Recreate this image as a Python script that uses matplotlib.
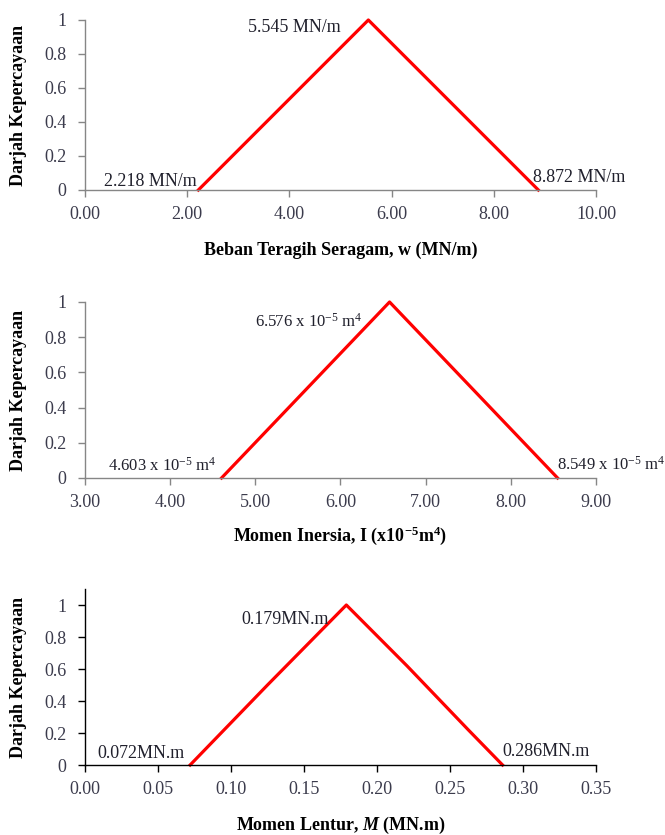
import matplotlib
matplotlib.use("Agg")
import matplotlib.pyplot as plt

plt.rcParams["font.family"] = ["Liberation Serif", "DejaVu Serif"]
plt.rcParams["mathtext.fontset"] = "custom"
plt.rcParams["mathtext.rm"] = "Liberation Serif"
plt.rcParams["mathtext.it"] = "Liberation Serif:italic:bold"
plt.rcParams["mathtext.bf"] = "Liberation Serif:bold"

# Membership functions (triangular fuzzy numbers)
load_x = [2.218, 5.545, 8.872]
load_mu = [0.0, 1.0, 0.0]

inertia_x = [4.603, 6.576, 8.549]
inertia_mu = [0.0, 1.0, 0.0]

moment_x = [0.072, 0.125, 0.179, 0.2205, 0.2625, 0.286]
moment_mu = [0.0, 0.5, 1.0, 0.62, 0.22, 0.0]

load_ticks = [0, 2, 4, 6, 8, 10]
inertia_ticks = [3, 4, 5, 6, 7, 8, 9]
moment_ticks = [0.00, 0.05, 0.10, 0.15, 0.20, 0.25, 0.30, 0.35]
mu_ticks = [0, 0.2, 0.4, 0.6, 0.8, 1]
mu_labels = ["0", "0.2", "0.4", "0.6", "0.8", "1"]

W, H = 665, 835
fig = plt.figure(figsize=(W / 100, H / 100), dpi=100)

TICK_COLOR = "#3b3b4c"
TEXT_COLOR = "#20202c"
FS = 13


def make_axes(top_px, bottom_px):
    left, right = 85, 596
    return fig.add_axes([left / W, 1 - bottom_px / H, (right - left) / W,
                         (bottom_px - top_px) / H])


def style(ax, spine_color, xticks, xfmt, xlim, ylim, xlabel, xlabel_y):
    for s in ("top", "right"):
        ax.spines[s].set_visible(False)
    for s in ("left", "bottom"):
        ax.spines[s].set_color(spine_color)
        ax.spines[s].set_linewidth(1.0)
    ax.set_xlim(*xlim)
    ax.set_ylim(*ylim)
    ax.set_xticks(xticks)
    ax.set_xticklabels([xfmt.format(t) for t in xticks])
    ax.set_yticks(mu_ticks)
    ax.set_yticklabels(mu_labels)
    ax.tick_params(axis="both", direction="out", length=5, width=1.0,
                   color=spine_color, labelcolor=TICK_COLOR, labelsize=FS)
    ax.tick_params(axis="x", pad=6.5)
    ax.tick_params(axis="y", pad=8.5)
    ax.set_ylabel("Darjah Kepercayaan", fontsize=FS, fontweight="bold",
                  color="black")
    ax.yaxis.set_label_coords(-0.113, 0.5)
    ax.set_xlabel(xlabel, fontsize=FS, fontweight="bold", color="black",
                  va="center")
    ax.xaxis.set_label_coords(0.5, xlabel_y)
    ax.patch.set_alpha(0)


def label(ax, text, xy, offset, ha, size=FS):
    ax.annotate(text, xy=xy, xytext=offset, textcoords="offset pixels",
                ha=ha, va="center", fontsize=size, color=TEXT_COLOR,
                annotation_clip=False)


# Uniform distributed load
ax1 = make_axes(20, 190)
ax1.plot(load_x, load_mu, color="#ff0000", lw=2.3, clip_on=False)
style(ax1, "#868686", load_ticks, "{:.2f}", (0, 10), (0, 1),
      "Beban Teragih Seragam, w (MN/m)", -60 / 170)
label(ax1, f"{load_x[1]:.3f} MN/m", (load_x[1], 1), (-28, -8), "right")
label(ax1, f"{load_x[0]:.3f} MN/m", (load_x[0], 0), (-2, 9), "right")
label(ax1, f"{load_x[2]:.3f} MN/m", (load_x[2], 0), (-5, 13), "left")

# Moment of inertia
ax2 = make_axes(302, 478)
ax2.plot(inertia_x, inertia_mu, color="#ff0000", lw=2.3, clip_on=False)
style(ax2, "#868686", inertia_ticks, "{:.2f}", (3, 9), (0, 1),
      r"Momen Inersia, I (x10$^{\mathbf{-5}}$m$^{\mathbf{4}}$)", -58 / 176)
label(ax2, f"{inertia_x[1]:.3f} x 10$^{{-5}}$ m$^{{4}}$", (inertia_x[1], 1),
      (-27, -20), "right", 12)
label(ax2, f"{inertia_x[0]:.3f} x 10$^{{-5}}$ m$^{{4}}$", (inertia_x[0], 0),
      (-5, 12), "right", 12)
label(ax2, f"{inertia_x[2]:.3f} x 10$^{{-5}}$ m$^{{4}}$", (inertia_x[2], 0),
      (-1, 13), "left", 12)

# Bending moment
ax3 = make_axes(589, 765)
ax3.plot(moment_x, moment_mu, color="#ff0000", lw=2.3, clip_on=False)
style(ax3, "black", moment_ticks, "{:.2f}", (0, 0.35), (0, 1.1),
      r"Momen Lentur, $\mathit{M}$ (MN.m)", -60 / 176)
label(ax3, f"{moment_x[2]:.3f}MN.m", (moment_x[2], 1), (-17, -15), "right")
label(ax3, f"{moment_x[0]:.3f}MN.m", (moment_x[0], 0), (-5, 12), "right")
label(ax3, f"{moment_x[-1]:.3f}MN.m", (moment_x[-1], 0), (0, 13), "left")

fig.savefig("out.png", dpi=100, facecolor="white")
